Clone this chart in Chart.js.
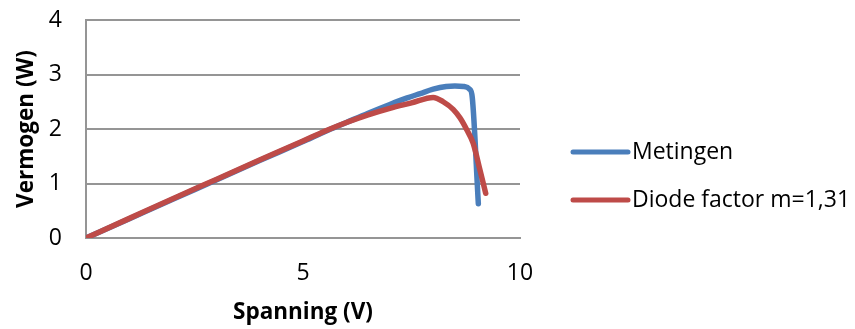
<!DOCTYPE html>
<html>
<head>
<meta charset="utf-8">
<style>
  html, body { margin: 0; padding: 0; background: #ffffff; }
  #wrap { width: 855px; height: 329px; }
</style>
<script src="https://cdn.jsdelivr.net/npm/chart.js@4.4.1/dist/chart.umd.min.js"></script>
</head>
<body>
<div id="wrap"><canvas id="c" width="855" height="329"></canvas></div>
<script>
// Measured power curve of the solar panel
const metingenV = [0, 1, 2, 3, 4, 5, 5.5, 6, 6.5, 7, 7.4, 7.7, 8.0, 8.3, 8.5, 8.7, 8.84, 8.9, 9.04];
const metingenP = [0, 0.355, 0.71, 1.065, 1.42, 1.77, 1.95, 2.12, 2.29, 2.45, 2.57, 2.65, 2.73, 2.78, 2.79, 2.78, 2.73, 2.58, 0.63];

// Model curve, diode factor m = 1,31
const modelV = [0, 1, 2, 3, 4, 5, 5.5, 6, 6.5, 7, 7.5, 8.0, 8.23, 8.46, 8.62, 8.77, 8.92, 9.08, 9.21];
const modelP = [0, 0.36, 0.72, 1.075, 1.43, 1.78, 1.96, 2.12, 2.26, 2.38, 2.48, 2.58, 2.50, 2.36, 2.20, 1.99, 1.74, 1.24, 0.82];

const seriesNames = ['Metingen', 'Diode factor m=1,31'];
const seriesColors = ['#4a7ebb', '#be4b48'];
const xTicks = [0, 5, 10];
const yTicks = [0, 1, 2, 3, 4];

const toPoints = (xs, ys) => xs.map((x, i) => ({ x: x, y: ys[i] }));

const FONT = "'Open Sans', 'DejaVu Sans', sans-serif";
const GRID = '#959595';

// Legend drawn to the right of the plot: a short thick line plus the name
const sideLegend = {
  id: 'sideLegend',
  afterDraw(chart) {
    const ctx = chart.ctx;
    const area = chart.chartArea;
    const x0 = area.right + 53;
    const len = 55;
    const rows = [152, 200];
    ctx.save();
    chart.data.datasets.forEach((ds, i) => {
      const y = rows[i];
      ctx.strokeStyle = ds.borderColor;
      ctx.lineWidth = 5;
      ctx.lineCap = 'round';
      ctx.beginPath();
      ctx.moveTo(x0, y);
      ctx.lineTo(x0 + len, y);
      ctx.stroke();
      ctx.fillStyle = '#000000';
      ctx.font = '23px ' + FONT;
      ctx.textBaseline = 'middle';
      ctx.textAlign = 'left';
      ctx.fillText(ds.label, x0 + len + 4, y);
    });
    ctx.restore();
  }
};

new Chart(document.getElementById('c'), {
  type: 'scatter',
  data: {
    datasets: [
      {
        label: seriesNames[0],
        data: toPoints(metingenV, metingenP),
        order: 1,
        showLine: true,
        borderColor: seriesColors[0],
        backgroundColor: seriesColors[0],
        borderWidth: 5.5,
        pointRadius: 0,
        cubicInterpolationMode: 'monotone',
        borderCapStyle: 'round',
        borderJoinStyle: 'round'
      },
      {
        label: seriesNames[1],
        data: toPoints(modelV, modelP),
        order: 0,
        showLine: true,
        borderColor: seriesColors[1],
        backgroundColor: seriesColors[1],
        borderWidth: 5.5,
        pointRadius: 0,
        cubicInterpolationMode: 'monotone',
        borderCapStyle: 'round',
        borderJoinStyle: 'round'
      }
    ]
  },
  options: {
    responsive: false,
    animation: false,
    devicePixelRatio: 1,
    layout: { padding: { top: 20, right: 335, bottom: 0, left: 0 } },
    plugins: {
      legend: { display: false },
      tooltip: { enabled: false }
    },
    scales: {
      x: {
        type: 'linear',
        min: 0,
        max: 10,
        afterBuildTicks: (scale) => { scale.ticks = xTicks.map(v => ({ value: v })); },
        afterFit: (scale) => { scale.height = 91; scale.paddingLeft = 0; scale.paddingRight = 0; },
        grid: { display: false, drawTicks: false },
        border: { display: true, color: GRID, width: 2 },
        ticks: {
          color: '#000000',
          padding: 22,
          maxRotation: 0,
          font: { family: FONT, size: 23 }
        },
        title: {
          display: true,
          text: 'Spanning (V)',
          color: '#000000',
          padding: { top: 0, bottom: 3 },
          font: { family: FONT, size: 22.5, weight: 'bold' }
        }
      },
      y: {
        type: 'linear',
        min: 0,
        max: 4,
        afterBuildTicks: (scale) => { scale.ticks = yTicks.map(v => ({ value: v })); },
        afterFit: (scale) => { scale.width = 86; scale.paddingTop = 0; scale.paddingBottom = 0; },
        grid: { color: GRID, lineWidth: 2, drawTicks: false },
        border: { display: true, color: GRID, width: 2 },
        ticks: {
          color: '#000000',
          padding: 24,
          font: { family: FONT, size: 23 }
        },
        title: {
          display: true,
          text: 'Vermogen (W)',
          color: '#000000',
          padding: { top: 13, bottom: 0 },
          font: { family: FONT, size: 22.5, weight: 'bold' }
        }
      }
    }
  },
  plugins: [sideLegend]
});
</script>
</body>
</html>
